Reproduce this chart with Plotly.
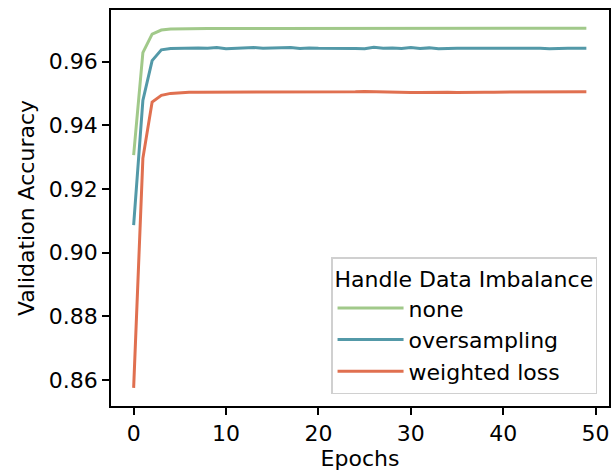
import plotly.graph_objects as go

epochs = list(range(50))

acc_none = [0.9306, 0.9628, 0.9686, 0.9699, 0.9702, 0.9703, 0.9703, 0.9704, 0.9704, 0.9704,
            0.9703, 0.9704, 0.9704, 0.9703, 0.9704, 0.9704, 0.9704, 0.9703, 0.9704, 0.9704,
            0.9704, 0.9704, 0.9703, 0.9704, 0.9704, 0.9704, 0.9704, 0.9704, 0.9704, 0.9704,
            0.9703, 0.9704, 0.9704, 0.9703, 0.9704, 0.9704, 0.9703, 0.9704, 0.9704, 0.9704,
            0.9704, 0.9704, 0.9704, 0.9703, 0.9704, 0.9704, 0.9703, 0.9704, 0.9705, 0.9705]
acc_over = [0.9086, 0.9478, 0.9603, 0.9637, 0.9641, 0.9642, 0.9642, 0.9643, 0.9642, 0.9644,
            0.9640, 0.9642, 0.9644, 0.9644, 0.9642, 0.9642, 0.9642, 0.9644, 0.9641, 0.9643,
            0.9642, 0.9642, 0.9643, 0.9642, 0.9641, 0.9640, 0.9645, 0.9642, 0.9643, 0.9641,
            0.9644, 0.9641, 0.9643, 0.9640, 0.9642, 0.9642, 0.9642, 0.9641, 0.9642, 0.9642,
            0.9642, 0.9642, 0.9642, 0.9643, 0.9642, 0.9640, 0.9642, 0.9642, 0.9642, 0.9642]
acc_wl = [0.8575, 0.9296, 0.9473, 0.9494, 0.9500, 0.9503, 0.9504, 0.9504, 0.9504, 0.9505,
          0.9504, 0.9505, 0.9504, 0.9504, 0.9504, 0.9505, 0.9505, 0.9504, 0.9505, 0.9505,
          0.9504, 0.9505, 0.9503, 0.9504, 0.9505, 0.9506, 0.9505, 0.9504, 0.9503, 0.9502,
          0.9503, 0.9503, 0.9504, 0.9504, 0.9504, 0.9503, 0.9504, 0.9504, 0.9504, 0.9504,
          0.9504, 0.9505, 0.9505, 0.9504, 0.9504, 0.9504, 0.9505, 0.9504, 0.9505, 0.9505]

series = [("none", acc_none, "#a1c98a"),
          ("oversampling", acc_over, "#5399a8"),
          ("weighted loss", acc_wl, "#e07050")]

x_ticks = [0, 10, 20, 30, 40, 50]
y_ticks = [0.86, 0.88, 0.90, 0.92, 0.94, 0.96]

fig = go.Figure()
for name, vals, col in series:
    fig.add_trace(go.Scatter(x=epochs, y=vals, mode="lines", name=name,
                             line=dict(color=col, width=3)))

axis_common = dict(showline=True, linecolor="black", linewidth=1.6, mirror=True,
                   ticks="outside", ticklen=7, tickwidth=1.6, tickcolor="black",
                   showgrid=False, zeroline=False,
                   tickfont=dict(family="DejaVu Sans", size=22, color="black"))

fig.update_layout(
    width=612, height=476,
    margin=dict(l=111, r=1, t=10, b=70),
    paper_bgcolor="white", plot_bgcolor="white",
    font=dict(family="DejaVu Sans", size=22, color="black"),
    xaxis=dict(range=[-2.45, 51.45], tickvals=x_ticks,
               title=dict(text="Epochs", font=dict(size=22), standoff=4), **axis_common),
    yaxis=dict(range=[0.8518, 0.9762], tickvals=y_ticks, tickformat=".2f",
               title=dict(text="Validation Accuracy", font=dict(size=22), standoff=8), **axis_common),
    legend=dict(x=0.976, y=0.03, xanchor="right", yanchor="bottom",
                bgcolor="rgba(255,255,255,0.8)", bordercolor="#d0d0d0", borderwidth=1.5,
                title=dict(text="Handle Data Imbalance", side="top", font=dict(size=22)),
                font=dict(size=22), itemwidth=66),
)

fig.write_html("out.html")
